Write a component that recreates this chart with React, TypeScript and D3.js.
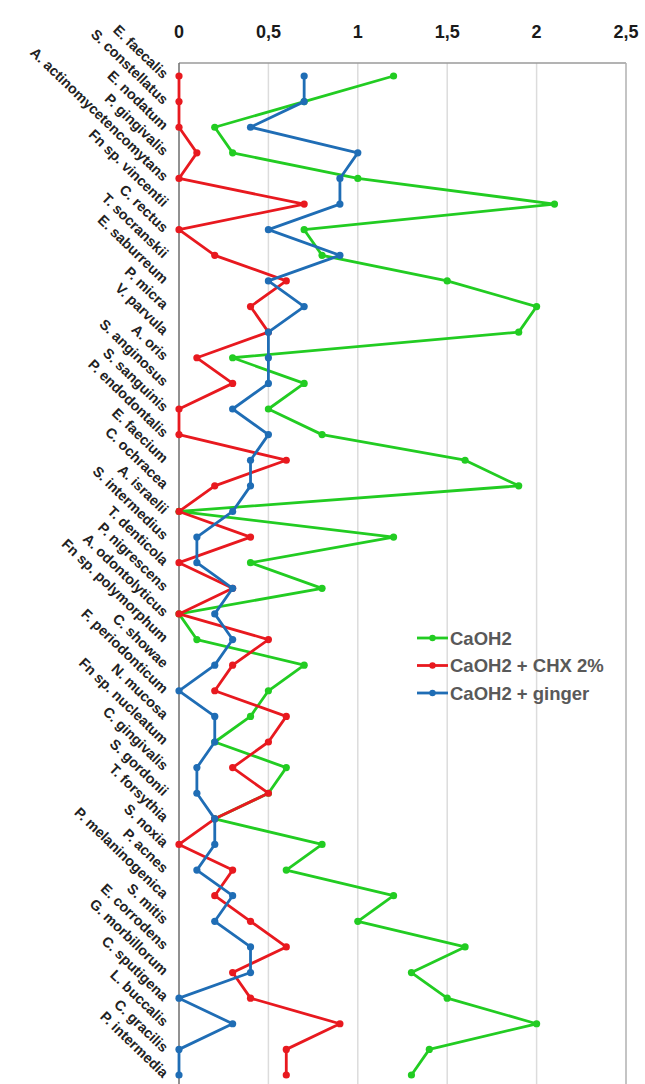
import { useEffect, useRef } from 'react';
import * as d3 from 'd3';

const bacteria = [
  'E. faecalis', 'S. constellatus', 'E. nodatum', 'P. gingivalis', 'A. actinomycetencomytans',
  'Fn sp. vincentii', 'C. rectus', 'T. socranskii', 'E. saburreum', 'P. micra',
  'V. parvula', 'A. oris', 'S. anginosus', 'S. sanguinis', 'P. endodontalis',
  'E. faecium', 'C. ochracea', 'A. israelii', 'S. intermedius', 'T. denticola',
  'P. nigrescens', 'A. odontolyticus', 'Fn sp. polymorphum', 'C. showae', 'F. periodonticum',
  'N. mucosa', 'Fn sp. nucleatum', 'C. gingivalis', 'S. gordonii', 'T. forsythia',
  'S. noxia', 'P. acnes', 'P. melaninogenica', 'S. mitis', 'E. corrodens',
  'G. morbillorum', 'C. sputigena', 'L. buccalis', 'C. gracilis', 'P. intermedia',
];

const caoh2 = [
  1.2, 0.7, 0.2, 0.3, 1.0, 2.1, 0.7, 0.8, 1.5, 2.0,
  1.9, 0.3, 0.7, 0.5, 0.8, 1.6, 1.9, 0, 1.2, 0.4,
  0.8, 0, 0.1, 0.7, 0.5, 0.4, 0.2, 0.6, 0.5, 0.2,
  0.8, 0.6, 1.2, 1.0, 1.6, 1.3, 1.5, 2.0, 1.4, 1.3,
];

const caoh2Chx = [
  0, 0, 0, 0.1, 0, 0.7, 0, 0.2, 0.6, 0.4,
  0.5, 0.1, 0.3, 0, 0, 0.6, 0.2, 0, 0.4, 0,
  0.3, 0, 0.5, 0.3, 0.2, 0.6, 0.5, 0.3, 0.5, 0.2,
  0, 0.3, 0.2, 0.4, 0.6, 0.3, 0.4, 0.9, 0.6, 0.6,
];

const caoh2Ginger = [
  0.7, 0.7, 0.4, 1.0, 0.9, 0.9, 0.5, 0.9, 0.5, 0.7,
  0.5, 0.5, 0.5, 0.3, 0.5, 0.4, 0.4, 0.3, 0.1, 0.1,
  0.3, 0.2, 0.3, 0.2, 0, 0.2, 0.2, 0.1, 0.1, 0.2,
  0.2, 0.1, 0.3, 0.2, 0.4, 0.4, 0, 0.3, 0, 0,
];

const xTicks = [0, 0.5, 1, 1.5, 2, 2.5];

const series = [
  { name: 'CaOH2', values: caoh2, color: '#22cc22' },
  { name: 'CaOH2 + CHX 2%', values: caoh2Chx, color: '#e8191f' },
  { name: 'CaOH2 + ginger', values: caoh2Ginger, color: '#1f6db5' },
];

function App() {
  const svgRef = useRef<SVGSVGElement>(null);

  useEffect(() => {
    const width = 645, height = 1084;
    const left = 179, right = 626, top = 63;

    const svg = d3.select(svgRef.current);
    svg.selectAll('*').remove();
    svg.attr('width', width).attr('height', height).style('font-family', 'Liberation Sans, Arial, sans-serif');

    const x = d3.scaleLinear().domain([0, 2.5]).range([left, right]);
    const y = d3.scalePoint<string>().domain(bacteria).range([76, 1075]);

    // grid
    svg.append('g')
      .selectAll('line')
      .data(xTicks.slice(1, -1))
      .join('line')
      .attr('x1', (d) => x(d)).attr('x2', (d) => x(d))
      .attr('y1', top).attr('y2', height + 5)
      .attr('stroke', '#dcdcdc').attr('stroke-width', 1.5);

    // frame
    svg.append('line').attr('x1', left).attr('x2', right).attr('y1', top).attr('y2', top)
      .attr('stroke', '#9a9a9a').attr('stroke-width', 1.5);
    svg.append('line').attr('x1', right).attr('x2', right).attr('y1', top).attr('y2', height + 5)
      .attr('stroke', '#b0b0b0').attr('stroke-width', 1.5);
    svg.append('line').attr('x1', left).attr('x2', left).attr('y1', top).attr('y2', height + 5)
      .attr('stroke', '#6e6e6e').attr('stroke-width', 1.5);

    // x tick labels
    svg.append('g')
      .selectAll('text')
      .data(xTicks)
      .join('text')
      .attr('x', (d) => x(d))
      .attr('y', 38)
      .attr('text-anchor', 'middle')
      .attr('font-size', 18)
      .attr('font-weight', 'bold')
      .attr('fill', '#1a1a1a')
      .text((d) => String(d).replace('.', ','));

    // category labels
    svg.append('g')
      .selectAll('text')
      .data(bacteria)
      .join('text')
      .attr('transform', (d) => `translate(${left - 13}, ${y(d)}) rotate(44)`)
      .attr('text-anchor', 'end')
      .attr('dy', '0.35em')
      .attr('font-size', 14.3)
      .attr('font-weight', 'bold')
      .attr('fill', '#222')
      .text((d) => d);

    const line = d3.line<number>()
      .x((d) => x(d))
      .y((_, i) => y(bacteria[i]) as number);

    series.forEach((s) => {
      svg.append('path')
        .datum(s.values)
        .attr('fill', 'none')
        .attr('stroke', s.color)
        .attr('stroke-width', 2.8)
        .attr('stroke-linejoin', 'round')
        .attr('d', line);
      svg.append('g')
        .selectAll('circle')
        .data(s.values)
        .join('circle')
        .attr('cx', (d) => x(d))
        .attr('cy', (_, i) => y(bacteria[i]) as number)
        .attr('r', 3.6)
        .attr('fill', s.color);
    });

    // legend
    const legend = svg.append('g').attr('transform', 'translate(417, 638)');
    series.forEach((s, i) => {
      const g = legend.append('g').attr('transform', `translate(0, ${i * 27.5})`);
      g.append('line').attr('x1', 0).attr('x2', 31).attr('y1', 0).attr('y2', 0)
        .attr('stroke', s.color).attr('stroke-width', 2.8);
      g.append('circle').attr('cx', 15.5).attr('cy', 0).attr('r', 3.2).attr('fill', s.color);
      g.append('text')
        .attr('x', 33)
        .attr('y', 0)
        .attr('dy', '0.36em')
        .attr('font-size', 18.5)
        .attr('font-weight', 'bold')
        .attr('fill', '#595959')
        .text(s.name);
    });
  }, []);

  return (
    <svg ref={svgRef} style={{ position: 'absolute', left: 0, top: 0 }} />
  );
}

export default App;
